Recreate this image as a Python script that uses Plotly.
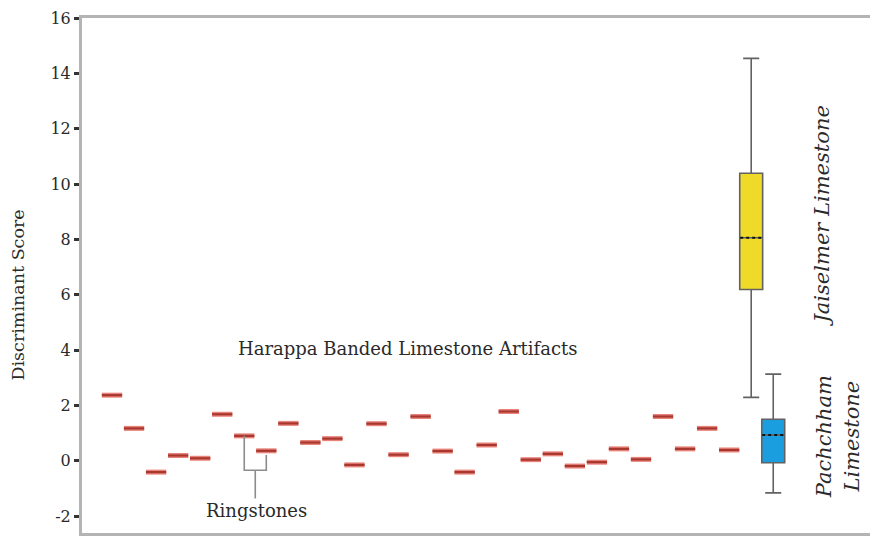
import plotly.graph_objects as go

# Discriminant scores of the Harappa banded limestone artifacts (one per position)
artifact_pos = list(range(1, 30))
artifact_scores = [2.37, 1.17, -0.41, 0.19, 0.09, 1.68, 0.90, 0.36, 1.35, 0.66,
                   0.80, -0.15, 1.34, 0.22, 1.60, 0.35, -0.41, 0.57, 1.78, 0.04,
                   0.25, -0.19, -0.05, 0.43, 0.05, 1.60, 0.43, 1.17, 0.39]

# Source-rock reference groups (box summaries)
source_names = ["Jaiselmer Limestone", "Pachchham Limestone"]
source_pos = [30, 31]
source_low = [2.29, -1.16]
source_q1 = [6.19, -0.07]
source_median = [8.06, 0.93]
source_q3 = [10.39, 1.50]
source_high = [14.54, 3.13]
source_colors = ["#EFDA2A", "#1B9EDF"]

y_ticks = [-2, 0, 2, 4, 6, 8, 10, 12, 14, 16]
y_tick_text = ["-2", "0", "2", "4", "6", "8", "10", "12", "14", "16"]

SERIF = "DejaVu Serif"
TEXT = "#2a2a2a"
AXIS = "#b4b4b4"

fig = go.Figure()

# artifact scores drawn as short horizontal dashes (soft outer stroke + dark core)
for width, color in [(5, "#E8837A"), (2.2, "#A8372F")]:
    fig.add_trace(go.Scatter(
        x=artifact_pos, y=artifact_scores, mode="markers",
        marker=dict(symbol="line-ew", size=14.5,
                    line=dict(width=width, color=color)),
        hoverinfo="y", showlegend=False))

# ringstone bracket joining artifacts 7 and 8
rs_a, rs_b = 7, 8
bracket_y = -0.34
fig.add_trace(go.Scatter(
    x=[rs_a, rs_a, rs_b, rs_b], y=[artifact_scores[rs_a - 1], bracket_y, bracket_y, 0.21],
    mode="lines", line=dict(color="#8c8c8c", width=1.6),
    hoverinfo="skip", showlegend=False))
fig.add_trace(go.Scatter(
    x=[(rs_a + rs_b) / 2] * 2, y=[bracket_y, -1.36],
    mode="lines", line=dict(color="#8c8c8c", width=1.6),
    hoverinfo="skip", showlegend=False))

# source-rock boxes
for i, name in enumerate(source_names):
    fig.add_trace(go.Box(
        name=name, x=[source_pos[i]],
        q1=[source_q1[i]], median=[source_median[i]], q3=[source_q3[i]],
        lowerfence=[source_low[i]], upperfence=[source_high[i]],
        width=1.04, whiskerwidth=0.7, boxpoints=False,
        fillcolor=source_colors[i], line=dict(color="#626262", width=1.6),
        hoverinfo="y", showlegend=False))
    # dotted median line
    fig.add_trace(go.Scatter(
        x=[source_pos[i] - 0.5, source_pos[i] + 0.5],
        y=[source_median[i]] * 2, mode="lines",
        line=dict(color="#111111", width=2, dash="dot"),
        hoverinfo="skip", showlegend=False))

annotations = [
    dict(text="Harappa Banded Limestone Artifacts", x=14.41, y=4.07,
         font=dict(size=18)),
    dict(text="Ringstones", x=7.55, y=-1.79, font=dict(size=18)),
    dict(text="<i>Jaiselmer Limestone</i>", x=33.2, y=8.85,
         textangle=-90, font=dict(size=21)),
    dict(text="<i>Pachchham<br>Limestone</i>", x=33.95, y=0.86,
         textangle=-90, font=dict(size=21)),
    dict(text="Discriminant Score", xref="paper", x=-0.0815, y=6.0,
         textangle=-90, font=dict(size=17.5)),
]
for a in annotations:
    a.setdefault("xref", "x")
    a.setdefault("yref", "y")
    a["showarrow"] = False
    a["xanchor"] = "center"
    a["yanchor"] = "middle"
    a["font"] = dict(family=SERIF, color=TEXT, **a["font"])

fig.update_layout(
    width=870, height=536,
    margin=dict(l=82, r=0, t=18, b=3),
    paper_bgcolor="white", plot_bgcolor="white",
    font=dict(family=SERIF, color=TEXT),
    annotations=annotations,
    xaxis=dict(range=[-0.361, 35.39], showgrid=False, zeroline=False,
               showticklabels=False, ticks="",
               showline=True, mirror=True, linecolor=AXIS, linewidth=3),
    yaxis=dict(range=[-2.61, 16.0], showgrid=False, zeroline=False,
               tickvals=y_ticks, ticktext=y_tick_text,
               ticks="outside", ticklen=5, tickwidth=3,
               tickcolor="#333333",
               tickfont=dict(family=SERIF, size=16, color=TEXT),
               showline=True, linecolor=AXIS, linewidth=3),
)

fig.write_html("out.html")
